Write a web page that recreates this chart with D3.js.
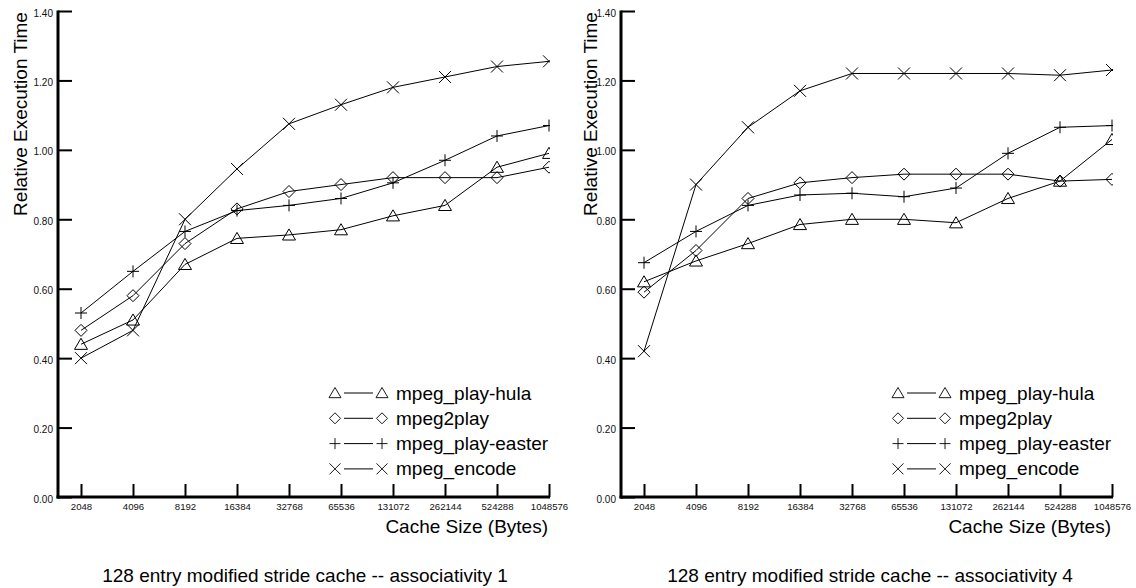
<!DOCTYPE html>
<html>
<head>
<meta charset="utf-8">
<script src="https://cdn.jsdelivr.net/npm/d3@7/dist/d3.min.js"></script>
<style>
  html, body { margin: 0; padding: 0; background: #fff; }
  svg { display: block; font-family: "Liberation Sans", Arial, Helvetica, sans-serif; }
</style>
</head>
<body>
<svg id="chart" width="1136" height="588"></svg>
<script>
// Cache sizes (bytes) on the x axis
const cacheSizes = ["2048", "4096", "8192", "16384", "32768", "65536", "131072", "262144", "524288", "1048576"];

// Y axis ticks
const yTicks = [0, 0.2, 0.4, 0.6, 0.8, 1.0, 1.2, 1.4];

// Benchmarks, in legend order, with their marker shapes
const seriesNames = ["mpeg_play-hula", "mpeg2play", "mpeg_play-easter", "mpeg_encode"];
const seriesMarkers = ["triangle", "diamond", "plus", "cross"];

// Relative execution time, associativity 1
const assoc1Hula   = [0.44, 0.51, 0.67, 0.745, 0.755, 0.77, 0.81, 0.84, 0.95, 0.99];
const assoc1Mpeg2  = [0.48, 0.58, 0.73, 0.83, 0.88, 0.90, 0.92, 0.92, 0.92, 0.95];
const assoc1Easter = [0.53, 0.65, 0.765, 0.825, 0.84, 0.86, 0.905, 0.97, 1.04, 1.07];
const assoc1Encode = [0.40, 0.48, 0.80, 0.945, 1.075, 1.13, 1.18, 1.21, 1.24, 1.255];

// Relative execution time, associativity 4
const assoc4Hula   = [0.62, 0.68, 0.73, 0.785, 0.80, 0.80, 0.79, 0.86, 0.91, 1.03];
const assoc4Mpeg2  = [0.59, 0.71, 0.86, 0.905, 0.92, 0.93, 0.93, 0.93, 0.91, 0.915];
const assoc4Easter = [0.675, 0.765, 0.84, 0.87, 0.875, 0.865, 0.89, 0.99, 1.065, 1.07];
const assoc4Encode = [0.42, 0.90, 1.065, 1.17, 1.22, 1.22, 1.22, 1.22, 1.215, 1.23];

const panelTitles = [
  "128 entry modified stride cache -- associativity 1",
  "128 entry modified stride cache -- associativity 4"
];

const panelSeries = [
  [assoc1Hula, assoc1Mpeg2, assoc1Easter, assoc1Encode],
  [assoc4Hula, assoc4Mpeg2, assoc4Easter, assoc4Encode]
];

// Panel geometry
const panels = [
  { axisX: 58,  firstX: 81,  endX: 549,  titleX: 27,  legendX: 335, captionX: 305 },
  { axisX: 621, firstX: 644, endX: 1112, titleX: 597, legendX: 898, captionX: 870 }
];
const plotTop = 11, plotBottom = 497;

// Marker path generators (centred at 0,0)
function markerPath(kind, s) {
  switch (kind) {
    case "triangle": return `M0,${-s} L${s + 0.5},${s * 0.85} L${-s - 0.5},${s * 0.85} Z`;
    case "diamond":  return `M0,${-s} L${s},0 L0,${s} L${-s},0 Z`;
    case "plus":     return `M${-s},0 H${s} M0,${-s} V${s}`;
    case "cross":    return `M${-s},${-s} L${s},${s} M${-s},${s} L${s},${-s}`;
  }
}

const svg = d3.select("#chart");
const defs = svg.append("defs");

panels.forEach((p, pi) => {
  const x = d3.scalePoint().domain(cacheSizes).range([p.firstX, p.endX]).padding(0);
  const y = d3.scaleLinear().domain([0, 1.4]).range([plotBottom, plotTop]);

  const g = svg.append("g");

  // Clip marks at the end of the x axis
  const clipId = "clip" + pi;
  defs.append("clipPath").attr("id", clipId)
    .append("rect")
    .attr("x", p.axisX).attr("y", 0)
    .attr("width", p.endX - p.axisX + 1).attr("height", plotBottom);

  // Y axis (ticks point inward, labels outside)
  const yAxis = d3.axisLeft(y).tickValues(yTicks).tickFormat(d3.format(".2f"))
    .tickSizeInner(-14).tickSizeOuter(0).tickPadding(5);
  const yg = g.append("g").attr("transform", `translate(${p.axisX},0)`).call(yAxis);
  yg.select(".domain").remove();
  yg.selectAll(".tick line").remove();
  yg.selectAll(".tick").append("rect")
    .attr("x", 0).attr("y", -1).attr("width", 14).attr("height", 2).attr("fill", "#000");
  yg.selectAll(".tick text").attr("font-size", 10).attr("fill", "#111")
    .attr("dy", "0.5em").style("font-family", "inherit");

  // X axis (ticks point upward)
  const xAxis = d3.axisBottom(x).tickSizeInner(-13).tickSizeOuter(0).tickPadding(6);
  const xg = g.append("g").attr("transform", `translate(0,${plotBottom})`).call(xAxis);
  xg.select(".domain").remove();
  xg.selectAll(".tick line").remove();
  xg.selectAll(".tick").append("rect")
    .attr("x", -1).attr("y", -13).attr("width", 2).attr("height", 13).attr("fill", "#000");
  xg.selectAll(".tick text").attr("font-size", 9.6).attr("fill", "#111")
    .style("font-family", "inherit");

  // Heavy axis lines
  g.append("rect").attr("x", p.axisX - 1.5).attr("y", y(1.4) - 0.5)
    .attr("width", 3).attr("height", plotBottom + 1.5 - y(1.4) + 0.5).attr("fill", "#000");
  g.append("rect").attr("x", p.axisX - 1.5).attr("y", plotBottom - 1.5)
    .attr("width", p.endX - p.axisX + 2.5).attr("height", 3).attr("fill", "#000");

  // Axis titles
  g.append("text")
    .attr("transform", `translate(${p.titleX},${114}) rotate(-90)`)
    .attr("text-anchor", "middle").attr("font-size", 19)
    .text("Relative Execution Time");
  g.append("text")
    .attr("x", p.endX - 1).attr("y", 533)
    .attr("text-anchor", "end").attr("font-size", 19)
    .text("Cache Size (Bytes)");

  // Caption
  g.append("text")
    .attr("x", p.captionX).attr("y", 582)
    .attr("text-anchor", "middle").attr("font-size", 19)
    .text(panelTitles[pi]);

  // Series lines and markers
  const plot = g.append("g").attr("clip-path", `url(#${clipId})`);
  const line = d3.line().x((d, i) => x(cacheSizes[i])).y(d => y(d));
  panelSeries[pi].forEach((vals, si) => {
    plot.append("path").datum(vals)
      .attr("d", line).attr("fill", "none")
      .attr("stroke", "#000").attr("stroke-width", 1);
    plot.selectAll(null).data(vals).enter().append("path")
      .attr("transform", (d, i) => `translate(${x(cacheSizes[i])},${y(d)})`)
      .attr("d", markerPath(seriesMarkers[si], 6))
      .attr("fill", "none").attr("stroke", "#000").attr("stroke-width", 1);
  });

  // Legend
  const lg = g.append("g");
  seriesNames.forEach((name, si) => {
    const ry = 393 + si * 25.3;
    const row = lg.append("g").attr("transform", `translate(0,${ry})`);
    row.append("path").attr("transform", `translate(${p.legendX},0)`)
      .attr("d", markerPath(seriesMarkers[si], 5.5)).attr("fill", "none")
      .attr("stroke", "#000").attr("stroke-width", 0.9);
    row.append("line").attr("x1", p.legendX + 9).attr("x2", p.legendX + 38)
      .attr("y1", 0).attr("y2", 0).attr("stroke", "#000").attr("stroke-width", 1);
    row.append("path").attr("transform", `translate(${p.legendX + 47},0)`)
      .attr("d", markerPath(seriesMarkers[si], 5.5)).attr("fill", "none")
      .attr("stroke", "#000").attr("stroke-width", 0.9);
    row.append("text").attr("x", p.legendX + 61).attr("y", 6.5)
      .attr("font-size", 19).text(name);
  });
});
</script>
</body>
</html>
